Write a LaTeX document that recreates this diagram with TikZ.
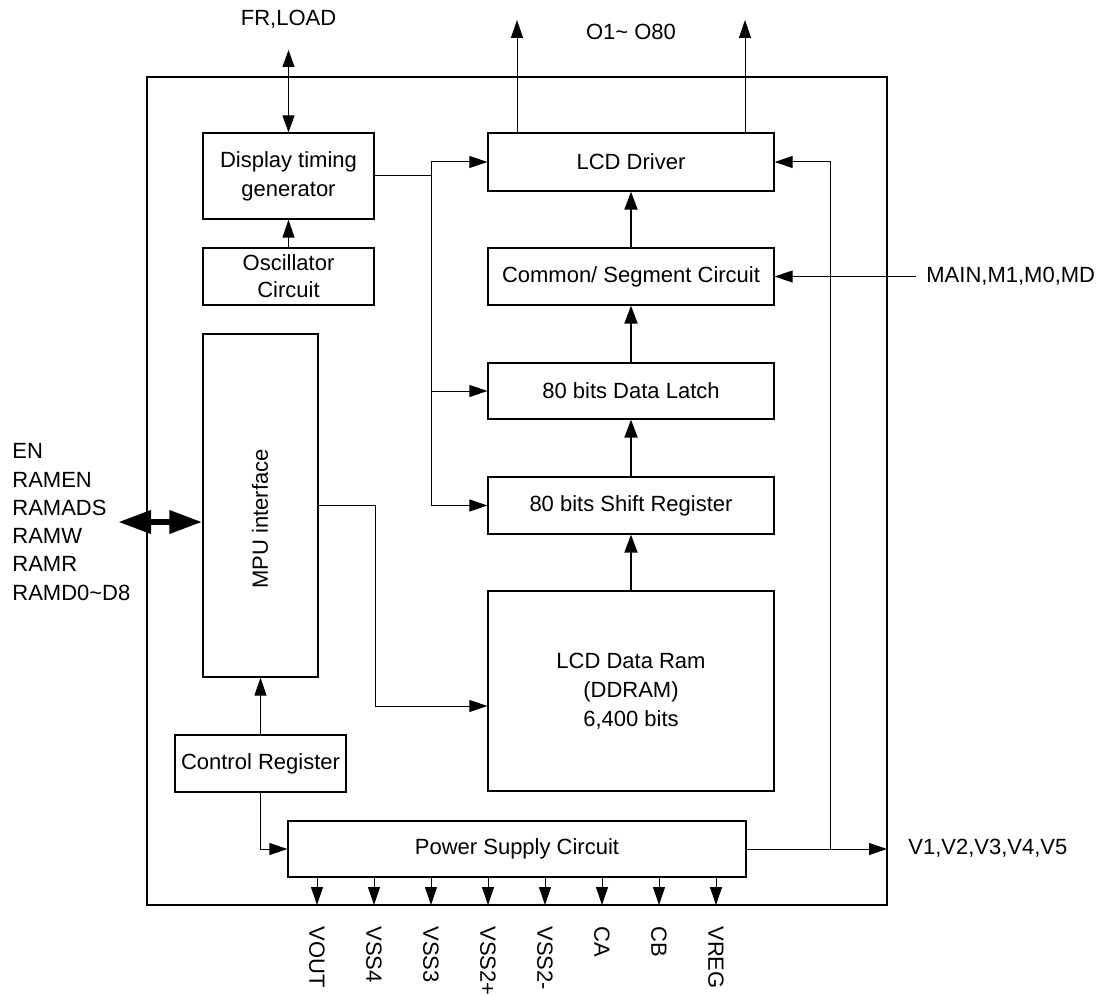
\documentclass[tikz,border=0pt]{standalone}
\usepackage{fontspec}
\setmainfont{Liberation Sans}
\usetikzlibrary{arrows.meta}
\begin{document}
\begin{tikzpicture}[x=0.5pt,y=-0.5pt,
  font=\fontsize{11pt}{14.5pt}\selectfont,
  blk/.style={draw, line width=0.65pt, inner sep=0pt, align=center},
  wire/.style={line width=0.5pt},
  arr/.style={line width=0.5pt, -{Triangle[length=9pt,width=6pt]}},
  tarr/.style={line width=1pt, -{Triangle[length=9pt,width=6.5pt]}},
  darr/.style={line width=0.5pt, {Triangle[length=8.5pt,width=6pt]}-{Triangle[length=8.5pt,width=6pt]}},
  bigarr/.style={line width=3.3pt, {Triangle[length=16.5pt,width=11pt]}-{Triangle[length=16.5pt,width=11pt]}},
  lbl/.style={inner sep=0pt}]
\useasboundingbox (0,0) rectangle (1109,995);

% outer chip boundary
\node[draw, line width=1.2pt, minimum width=370pt, minimum height=414pt, inner sep=0pt] (chip) at (517,491) {};

% blocks
\node[blk, minimum width=85.5pt, minimum height=43pt] (dtg) at (288.5,176) {Display timing\\generator};
\node[blk, minimum width=85.5pt, minimum height=28.5pt, font=\fontsize{11pt}{13.5pt}\selectfont] (osc) at (288.5,276.5) {Oscillator\\Circuit};
\node[blk, minimum width=143pt, minimum height=29pt] (drv) at (631,162) {LCD Driver};
\node[blk, minimum width=143pt, minimum height=28.5pt] (cs) at (631,276.5) {Common/ Segment Circuit};
\node[blk, minimum width=143pt, minimum height=28pt] (latch) at (631,391) {80 bits Data Latch};
\node[blk, minimum width=143pt, minimum height=28.5pt] (shift) at (631,505.5) {80 bits Shift Register};
\node[blk, minimum width=143pt, minimum height=100pt] (ram) at (631,691) {LCD Data Ram\\(DDRAM)\\6,400 bits};
\node[blk, minimum width=57.5pt, minimum height=171.5pt] (mpu) at (260.5,505.5) {};
\node[lbl, rotate=90] (mputxt) at (260,519) {MPU interface};
\node[blk, minimum width=85.5pt, minimum height=28.5pt] (ctrl) at (260.5,763.5) {Control Register};
\node[blk, minimum width=229pt, minimum height=28pt] (psu) at (517,849) {Power Supply Circuit};

% external labels
\node[lbl, anchor=base] (frl) at (288.5,26) {FR,LOAD};
\node[lbl, anchor=base] (otxt) at (631,40) {O1\textasciitilde{} O80};
\node[lbl, anchor=west] (mtxt) at (926,276.5) {MAIN,M1,M0,MD};
\node[lbl, anchor=west] (vtxt) at (908,848) {V1,V2,V3,V4,V5};
\node[lbl, anchor=west, align=left, font=\fontsize{11pt}{14.15pt}\selectfont] (pins) at (12,522)
  {EN\\RAMEN\\RAMADS\\RAMW\\RAMR\\RAMD0\textasciitilde D8};

% coordinates
\coordinate (frtop) at (288.5,50);
\coordinate (o1) at (517,20);
\coordinate (o2) at (745,20);
\coordinate (bus) at (431,176);
\coordinate (mainc) at (916,276.5);
\coordinate (vj) at (830,849);
\coordinate (vout) at (887,849);
\coordinate (lft) at (118,522);
\coordinate (mr) at (375,706);

% connectors
\draw[darr] (frtop) -- (dtg.north);
\draw[arr] (osc.north) -- (dtg.south);
\draw[arr] (drv.north -| o1) -- (o1);
\draw[arr] (drv.north -| o2) -- (o2);
\draw[wire] (dtg.east) -- (bus);
\draw[arr] (bus) |- (drv.west);
\draw[arr] (bus) |- (shift.west);
\draw[arr] (bus |- latch.west) -- (latch.west);
\draw[tarr] (cs.north) -- (drv.south);
\draw[tarr] (latch.north) -- (cs.south);
\draw[tarr] (shift.north) -- (latch.south);
\draw[tarr] (ram.north) -- (shift.south);
\draw[arr] (mainc) -- (cs.east);
\draw[arr] (psu.east) -- (vout);
\draw[arr] (vj) |- (drv.east);
\draw[bigarr] (lft) -- (mpu.west |- lft);
\draw[arr] (mpu.east) -| (mr) -- (ram.west |- mr);
\draw[arr] (ctrl.north) -- (mpu.south);
\draw[arr] (ctrl.south) |- (psu.west);

% power supply pins
\foreach \x/\t [count=\i] in {317/VOUT,374/VSS4,431/VSS3,488/VSS2+,545/VSS2-,602/CA,659/CB,716/VREG} {
  \coordinate (p\i) at (\x,905);
  \draw[arr] (psu.south -| p\i) -- (p\i);
  \node[lbl, rotate=-90, anchor=west] (l\i) at (\x,926) {\t};
}
\end{tikzpicture}
\end{document}
